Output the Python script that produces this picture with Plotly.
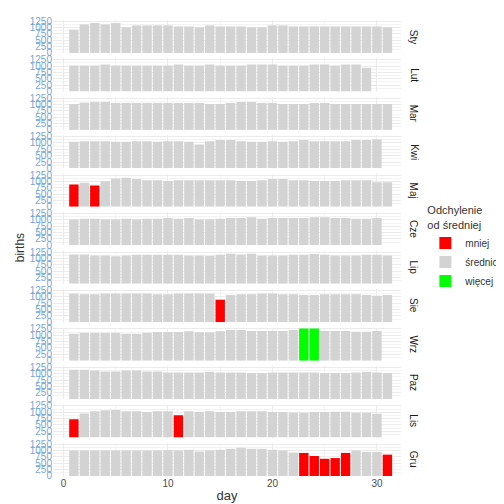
import plotly.graph_objects as go
from plotly.subplots import make_subplots

months = ["Sty", "Lut", "Mar", "Kwi", "Maj", "Cze", "Lip", "Sie", "Wrz", "Paz", "Lis", "Gru"]

births = {
    "Sty": [924,1128,1182,1128,1182,1005,1087,1087,1087,1087,1046,1046,1005,1087,1046,1046,1046,1005,1005,1087,1087,1046,1046,1046,1046,1046,1046,1046,1046,1046,1005],
    "Lut": [1019,1019,1019,1060,1019,1019,1019,1019,1019,1019,1060,1019,1019,1060,1019,1019,1019,1060,1060,1060,1019,1019,1019,1060,1060,1019,1060,1060,937],
    "Mar": [1019,1073,1100,1100,1060,1060,1060,1060,1060,1060,1060,1060,1060,1019,1019,1060,1100,1100,1060,1060,1019,1019,1019,1060,1060,1019,1019,1019,1019,1019,1019],
    "Kwi": [1046,1073,1073,1073,1046,1046,1073,1073,1046,1073,1073,1046,937,1073,1114,1114,1073,1046,1046,1073,1046,1073,1114,1073,1073,1073,1073,1114,1114,1141],
    "Maj": [883,951,842,1005,1114,1141,1100,1046,1046,1019,1046,1046,1046,1046,1046,1046,1019,1019,1046,1100,1100,1046,1046,1019,1019,1019,1046,1046,1046,965,965],
    "Cze": [1019,1046,1046,1019,1019,1046,1019,1046,1046,1073,1046,1073,1019,1019,1046,1073,1073,1100,1046,1073,1073,1073,1073,1100,1100,1073,1073,1046,1046,1073],
    "Lip": [1155,1155,1114,1114,1087,1114,1141,1141,1141,1141,1141,1114,1114,1100,1141,1182,1155,1182,1114,1114,1114,1141,1141,1169,1141,1114,1114,1114,1141,1141,1114],
    "Sie": [1128,1100,1100,1128,1128,1128,1128,1128,1100,1100,1128,1128,1128,1128,883,1073,1100,1100,1128,1128,1100,1100,1073,1073,1100,1100,1100,1100,1073,1046,1073],
    "Wrz": [1060,1100,1100,1100,1100,1060,1060,1100,1128,1128,1128,1155,1114,1114,1155,1209,1209,1169,1169,1169,1169,1209,1263,1263,1169,1169,1169,1141,1141,1169],
    "Paz": [1155,1155,1128,1087,1087,1128,1128,1087,1087,1046,1046,1046,1046,1073,1046,1046,1046,1019,1019,1046,1046,1046,1046,1046,1019,1019,1019,1046,1073,1046,1019],
    "Lis": [720,951,1032,1073,1087,1032,1032,1005,1032,1032,883,1032,1005,1032,1005,1005,1032,1032,1032,1005,1005,978,978,1005,1005,1019,1019,978,978,937],
    "Gru": [1005,1005,1005,1005,1005,1005,1005,1005,1005,1019,1005,1032,965,1005,1032,1073,1114,1073,1073,1032,1005,924,910,788,679,706,910,1005,951,951,842],
}

# days that differ from the average
less_days = {"Maj": [1, 3], "Sie": [15], "Lis": [1, 11], "Gru": [23, 24, 25, 26, 27, 31]}
more_days = {"Wrz": [23, 24]}

groups = ["mniej", "średnio", "więcej"]
colors = {"mniej": "#FF0000", "średnio": "#D3D3D3", "więcej": "#00FF00"}

fig = make_subplots(rows=12, cols=1, shared_xaxes=True, vertical_spacing=0.012)

shown = set()
for i, m in enumerate(months):
    vals = births[m]
    days = list(range(1, len(vals) + 1))
    for g in groups:
        xs, ys = [], []
        for d, v in zip(days, vals):
            if d in less_days.get(m, []):
                cat = "mniej"
            elif d in more_days.get(m, []):
                cat = "więcej"
            else:
                cat = "średnio"
            if cat == g:
                xs.append(d)
                ys.append(v)
        if not xs:
            continue
        fig.add_trace(go.Bar(x=xs, y=ys, name=g, marker_color=colors[g], marker_line_width=0,
                             width=0.9, legendgroup=g, showlegend=g not in shown,
                             legendrank=groups.index(g)), row=i + 1, col=1)
        shown.add(g)

fig.update_layout(
    width=504, height=504, barmode="overlay",
    plot_bgcolor="white", paper_bgcolor="white",
    margin=dict(l=45, r=108, t=8, b=36),
    font=dict(family="Liberation Sans", size=11, color="#333333"),
    legend=dict(title=dict(text="Odchylenie<br>od średniej", font=dict(size=11)),
                x=1.07, y=0.5, yanchor="middle", font=dict(size=10), traceorder="normal",
                itemwidth=30),
)
fig.update_xaxes(range=[-1, 32.3], dtick=10, showgrid=True, gridcolor="#ebebeb",
                 minor=dict(dtick=5, showgrid=True, gridcolor="#f3f3f3"),
                 zeroline=False, tickfont=dict(size=10, color="#4d4d4d"), ticks="")
fig.update_xaxes(title_text="day", title_standoff=2, row=12, col=1)
fig.update_yaxes(range=[0, 1300], tickvals=[0, 250, 500, 750, 1000, 1250], showgrid=True,
                 gridcolor="#ebebeb", minor=dict(dtick=125, showgrid=True, gridcolor="#f3f3f3"),
                 zeroline=False, tickfont=dict(size=10, color="#7aa6d6"), ticks="")

for i, m in enumerate(months):
    yref = "y domain" if i == 0 else f"y{i + 1} domain"
    fig.add_annotation(text=m, xref="paper", yref=yref, x=1.015, xanchor="left", y=0.5,
                       showarrow=False, textangle=90, font=dict(size=10, color="#1a1a1a"))

fig.add_annotation(text="births", xref="paper", yref="paper", x=-0.12, y=0.5, showarrow=False,
                   textangle=-90, font=dict(size=12))

fig.write_html("out.html")
